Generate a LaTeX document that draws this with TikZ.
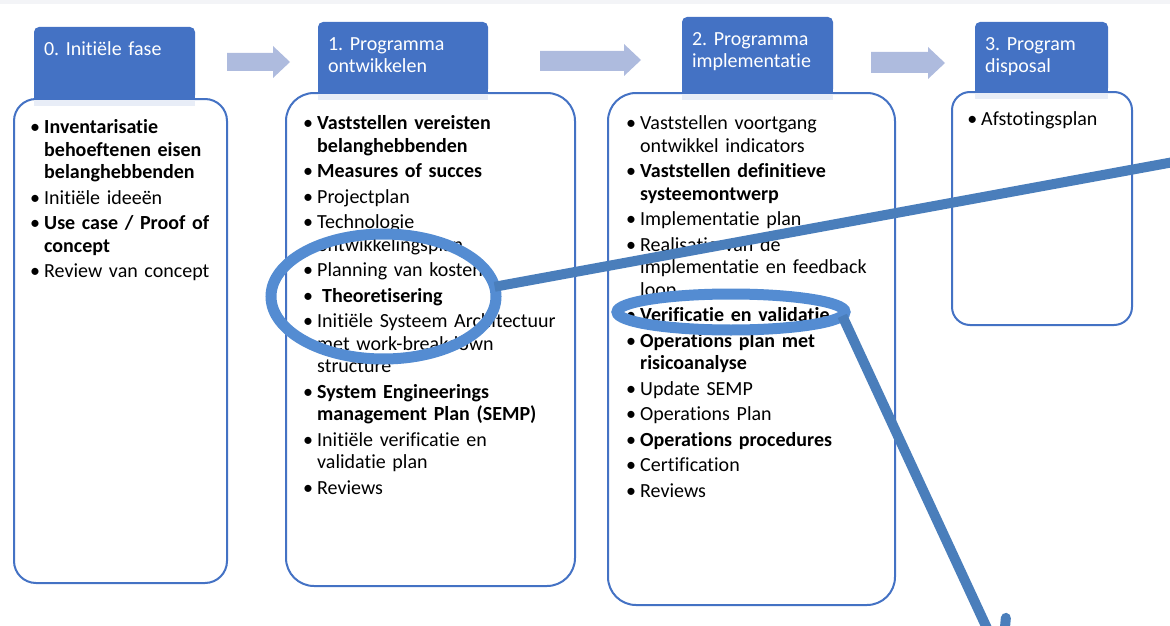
\documentclass[tikz,border=0pt]{standalone}
\usepackage{fontspec}
\setmainfont{Carlito}[Ligatures={NoCommon}]
\frenchspacing
\usetikzlibrary{shapes.geometric,arrows.meta,calc,positioning}
\definecolor{hdrblue}{RGB}{68,114,196}
\definecolor{pijl}{RGB}{174,187,222}
\definecolor{ringblue}{RGB}{84,140,210}
\definecolor{linkblue}{RGB}{74,126,187}
\definecolor{schaduw}{RGB}{232,237,247}
\definecolor{topband}{RGB}{243,244,247}
\tikzset{
	x=1pt,y=-1pt,
	hdr/.style ={fill=hdrblue, text=white, rounded corners=5pt, anchor=north west, outer sep=0pt, inner xsep=10pt, inner ysep=13.5pt, text height=15pt, align=left, font=\fontsize{20}{22.5}\selectfont},
	box/.style ={draw=hdrblue, line width=2pt, fill=white, anchor=north west, outer sep=0pt, inner sep=0pt},
	lst/.style ={anchor=base west, inner sep=0pt, align=left, text width=#1, font=\fontsize{20}{22.5}\selectfont},
	ring/.style ={ellipse, draw=ringblue, line width=11pt, inner sep=0pt, outer sep=0pt},
	link/.style ={draw=linkblue, line width=10pt},
	blok/.style ={fill=pijl}
}
\newcommand{\bu}{\leavevmode\llap{•\hspace{4pt}}}
\newcommand{\B}[1]{\textbf{#1}}

\begin{document}
\begin{tikzpicture}
	\clip (0,0) rectangle (1170,626);
	\fill[topband] (0,0) rectangle (1170,4);

	\node[box, rounded corners=22pt, minimum width=213pt, minimum height=484pt] (b0) at (14,99) {};
	\node[box, rounded corners=28pt, minimum width=289pt, minimum height=493pt] (b1) at (286,93) {};
	\node[box, rounded corners=28pt, minimum width=287pt, minimum height=512pt] (b2) at (608,93) {};
	\node[box, rounded corners=18pt, minimum width=180pt, minimum height=233pt] (b3) at (952,92) {};

	\node[hdr, text width=141pt, text depth=31pt] (h0) at (34,27) {0. Initiële fase};
	\node[hdr, text width=150pt, text depth=30pt] (h1) at (318,22) {1. Programma\\ontwikkelen};
	\node[hdr, text width=131pt, text depth=35pt] (h2) at (682,17) {2. Programma\\implementatie};
	\node[hdr, text width=113pt, text depth=29pt] (h3) at (975,22) {3. Program\\disposal};

	\fill[hdrblue] (h0.south west) rectangle ($(h0.south east)+(0,-8)$);
	\fill[hdrblue] (h1.south west) rectangle ($(h1.south east)+(0,-8)$);
	\fill[hdrblue] (h2.south west) rectangle ($(h2.south east)+(0,-8)$);
	\fill[hdrblue] (h3.south west) rectangle ($(h3.south east)+(0,-8)$);
	\fill[schaduw] (h0.south west) rectangle ($(h0.south east)+(0,6)$);
	\fill[schaduw] (h1.south west) rectangle ($(h1.south east)+(0,6)$);
	\fill[schaduw] (h2.south west) rectangle ($(h2.south east)+(0,6)$);
	\fill[schaduw] (h3.south west) rectangle ($(h3.south east)+(0,6)$);

	\fill[blok] (227,53) -- (273,53) -- (273,46) -- (290,62) -- (273,78) -- (273,71) -- (227,71) -- cycle;
	\fill[blok] (540,51) -- (624,51) -- (624,44) -- (641,60) -- (624,76) -- (624,71) -- (540,71) -- cycle;
	\fill[blok] (871,52) -- (928,52) -- (928,47) -- (945,63) -- (928,79) -- (928,73) -- (871,73) -- cycle;

	\node[lst=175pt] (t0) at (44,133.5) {\bu\B{Inventarisatie}\\
		\B{behoeftenen eisen}\\
		\B{belanghebbenden}\\[3pt]
		\bu Initiële ideeën\\[3pt]
		\bu\B{Use case / Proof of}\\
		\B{concept}\\[3pt]
		\bu Review van concept};
	\node[lst=255pt] (t1) at (317,129.5) {\bu\B{Vaststellen vereisten}\\
		\B{belanghebbenden}\\[3pt]
		\bu\B{Measures of succes}\\[3pt]
		\bu Projectplan\\[3pt]
		\bu Technologie\\
		ontwikkelingsplan\\[3pt]
		\bu Planning van kosten\\[3pt]
		\bu\hspace{5pt}\B{Theoretisering}\\[3pt]
		\bu Initiële Systeem Architectuur\\
		met work-breakdown\\
		structure\\[3pt]
		\bu\B{System Engineerings}\\
		\B{management Plan (SEMP)}\\[3pt]
		\bu Initiële verificatie en\\
		validatie plan\\[3pt]
		\bu Reviews};
	\node[lst=250pt] (t2) at (640,129.5) {\bu Vaststellen voortgang\\
		ontwikkel indicators\\[3pt]
		\bu\B{Vaststellen definitieve}\\
		\B{systeemontwerp}\\[3pt]
		\bu Implementatie plan\\[3pt]
		\bu Realisatie van de\\
		implementatie en feedback\\
		loop\\[3pt]
		\bu\B{Verificatie en validatie}\\[3pt]
		\bu\B{Operations plan met}\\
		\B{risicoanalyse}\\[3pt]
		\bu Update SEMP\\[3pt]
		\bu Operations Plan\\[3pt]
		\bu\B{Operations procedures}\\[3pt]
		\bu Certification\\[3pt]
		\bu Reviews};
	\node[lst=140pt] (t3) at (981,125.5) {\bu Afstotingsplan};

	\node[ring, minimum width=225pt, minimum height=125pt] (e1) at (383.5,296.5) {};
	\node[ring, minimum width=228pt, minimum height=36pt] (e2) at (731,312) {};

	\coordinate (u1) at (1190,159);
	\coordinate (u2) at (1004,665);
	\draw[link] (e1.5) -- (u1);
	\draw[link, -{Straight Barb[length=37pt,width=43pt,round]}] (e2.358) -- (u2);
\end{tikzpicture}
\end{document}
